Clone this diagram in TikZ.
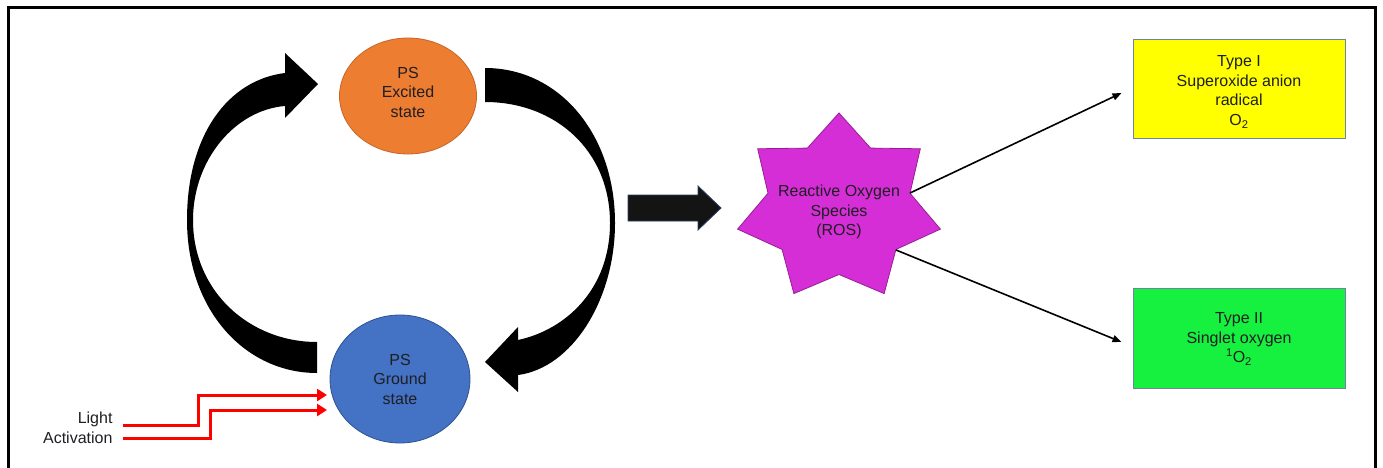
\documentclass[tikz,border=0pt]{standalone}
\usepackage{fontspec}
\setmainfont{Liberation Sans}
\usetikzlibrary{shapes.geometric,arrows.meta}
\definecolor{psorange}{RGB}{237,125,49}
\definecolor{psorangeb}{RGB}{200,100,40}
\definecolor{psblue}{RGB}{68,114,196}
\definecolor{psblueb}{RGB}{47,82,143}
\definecolor{rosmag}{RGB}{214,46,214}
\definecolor{rosmagb}{RGB}{150,30,150}
\definecolor{typeyel}{RGB}{255,255,0}
\definecolor{typegrn}{RGB}{22,240,62}
\definecolor{boxedge}{RGB}{110,130,165}
\definecolor{txt}{RGB}{30,30,35}
\definecolor{navyedge}{RGB}{40,60,100}
\begin{document}
\begin{tikzpicture}[x=1pt,y=-1pt,
  lbl/.style={font=\fontsize{16}{19.5}\selectfont, text=txt, align=center},
  psnode/.style={ellipse, line width=0.8pt},
  typebox/.style={rectangle, draw=boxedge, line width=1pt, minimum width=212pt},
  thinarrow/.style={line width=1.6pt, -{Triangle[length=9pt,width=7pt]}},
  redarrow/.style={red, line width=3pt, -{Triangle[length=10pt,width=12pt]}},
  bigarrow/.style={fill=black}
]
\useasboundingbox (0,0) rectangle (1383,468);
% frame
\draw[line width=3pt] (8,470) -- (8,8) -- (1375,8) -- (1375,470);

% PS nodes
\node[psnode, fill=psorange, draw=psorangeb, minimum width=137pt, minimum height=116pt] (exc) at (408,96) {};
\node[lbl] (exct) at ([yshift=4pt]exc.center) {PS\\Excited\\state};
\node[psnode, fill=psblue, draw=psblueb, minimum width=140pt, minimum height=128pt] (gnd) at (400,379) {};
\node[lbl] (gndt) at (gnd.center) {PS\\Ground\\state};

% left curved arrow (ground -> excited)
\fill[bigarrow] (317,373) .. controls (245,373) and (187,310) .. (187,220)
   .. controls (187,135) and (228,80) .. (285,73)
   -- (285,53) -- (318,84) -- (285,118) -- (285,106)
   .. controls (235,110) and (193,160) .. (193,220)
   .. controls (193,292) and (250,342) .. (317,342) -- cycle;

% right curved arrow (excited -> ground)
\fill[bigarrow] (485,68) .. controls (560,68) and (615,135) .. (615,223)
   .. controls (615,300) and (572,368) .. (518,375)
   -- (518,392) -- (485,362) -- (518,327) -- (518,340)
   .. controls (565,330) and (610,290) .. (610,223)
   .. controls (610,150) and (555,102) .. (485,102) -- cycle;

% middle block arrow
\filldraw[fill=black!92, draw=navyedge, line width=0.8pt]
  (628,195) -- (698,195) -- (698,186) -- (721,208) -- (698,230) -- (698,221) -- (628,221) -- cycle;

% ROS star
\filldraw[fill=rosmag, draw=rosmagb, line width=0.8pt]
  plot[samples at={0,1,...,13}, variable=\k]
  ({839+104*(1-0.3*mod(\k,2))*cos(90+\k*360/14)},{208-95*(1-0.3*mod(\k,2))*sin(90+\k*360/14)}) -- cycle;
\node[lbl] (ros) at (839,212) {Reactive Oxygen\\Species\\(ROS)};
\coordinate (rosA) at (910,193);
\coordinate (rosB) at (896,250);

% type boxes
\node[typebox, fill=typeyel, minimum height=98pt] (t1) at (1239,89) {};
\node[lbl] (t1t) at ([yshift=-3pt]t1.center) {Type I\\Superoxide anion\\radical\\O\textsubscript{2}};
\node[typebox, fill=typegrn, minimum height=100pt] (t2) at (1239,338) {};
\node[lbl] (t2t) at ([yshift=-1pt]t2.center) {Type II\\Singlet oxygen\\\textsuperscript{1}O\textsubscript{2}};

\draw[thinarrow] (rosA) -- ([xshift=-11pt,yshift=-4pt]t1.west);
\draw[thinarrow] (rosB) -- ([xshift=-11pt,yshift=-4pt]t2.west);

% light activation
\node[lbl, align=right, anchor=east] (light) at (116,428) {Light\\Activation};
\coordinate (l1s) at (123,425);
\coordinate (l2s) at (123,438);
\coordinate (l1e) at (327,395);
\coordinate (l2e) at (327,410);
\draw[redarrow] (l1s) -- (198,425) -- (198,395) -- (l1e);
\draw[redarrow] (l2s) -- (210,438) -- (210,410) -- (l2e);
\end{tikzpicture}
\end{document}
